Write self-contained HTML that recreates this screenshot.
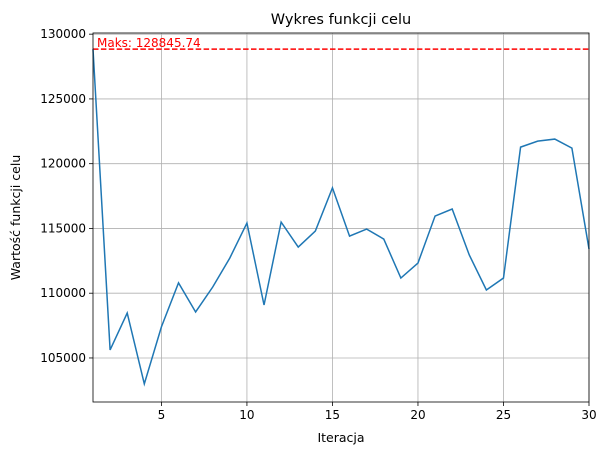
<!DOCTYPE html>
<html><head><meta charset="utf-8"><style>body{margin:0;background:#fff}svg{display:block;font-family:"DejaVu Sans","Liberation Sans",sans-serif}</style></head>
<body>
<svg id="chart" width="607" height="455"></svg>
<script>
const iterations=[1,2,3,4,5,6,7,8,9,10,11,12,13,14,15,16,17,18,19,20,21,22,23,24,25,26,27,28,29,30];
const values=[128845.74,105620,108470,103000,107400,110800,108550,110480,112720,115420,109090,115490,113560,114800,118130,114410,114950,114180,111170,112330,115960,116500,112950,110250,111170,121280,121740,121900,121200,113410];
const xTicks=[5,10,15,20,25,30];
const yTicks=[105000,110000,115000,120000,125000,130000];
const maxValue=128845.74;
const L=93,R=589,T=33,B=402,xmin=1,xmax=30,ymin=101600,ymax=130090;
const sx=v=>L+(v-xmin)/(xmax-xmin)*(R-L);
const sy=v=>B-(v-ymin)/(ymax-ymin)*(B-T);
const svg=document.getElementById('chart');const NS='http://www.w3.org/2000/svg';
function mk(t,a,txt){const e=document.createElementNS(NS,t);for(const k in a)e.setAttribute(k,a[k]);if(txt!=null)e.textContent=txt;svg.appendChild(e);return e;}
xTicks.forEach(v=>{const x=sx(v);
let g=mk('line',{x1:x,x2:x,y1:T,y2:B,stroke:'#b0b0b0','stroke-width':0.8});


mk('line',{x1:x,x2:x,y1:B,y2:B+4,stroke:'#000','stroke-width':0.8});
let t=mk('text',{x:x,y:B+17,'font-size':12,'text-anchor':'middle'},v);

});
yTicks.forEach(v=>{const y=sy(v);
let g=mk('line',{x1:L,x2:R,y1:y,y2:y,stroke:'#b0b0b0','stroke-width':0.8});


mk('line',{x1:L-4,x2:L,y1:y,y2:y,stroke:'#000','stroke-width':0.8});
let t=mk('text',{x:L-7,y:y+4,'font-size':12,'text-anchor':'end'},v);

});
let ml=mk('line',{x1:L,x2:R,y1:sy(maxValue),y2:sy(maxValue),stroke:'#ff0000','stroke-width':1.5,'stroke-dasharray':'5.5,2.4'});


let mt=mk('text',{x:sx(1)+4,y:sy(maxValue)-2,'font-size':12,fill:'#ff0000'},'Maks: '+maxValue.toFixed(2));


let p=mk('polyline',{points:iterations.map((it,i)=>sx(it)+','+sy(values[i])).join(' '),fill:'none',stroke:'#1f77b4','stroke-width':1.5});


let fr=mk('rect',{x:L,y:T,width:R-L,height:B-T,fill:'none',stroke:'#000','stroke-width':0.8});


let ti=mk('text',{x:(L+R)/2,y:24,'font-size':14.5,'text-anchor':'middle'},'Wykres funkcji celu');


let xl=mk('text',{x:(L+R)/2,y:442,'font-size':12.5,'text-anchor':'middle'},'Iteracja');


let yl=mk('text',{x:20,y:(T+B)/2,'font-size':12.5,'text-anchor':'middle',transform:'rotate(-90 20 '+(T+B)/2+')'},'Wartość funkcji celu');


</script>
</body></html>
